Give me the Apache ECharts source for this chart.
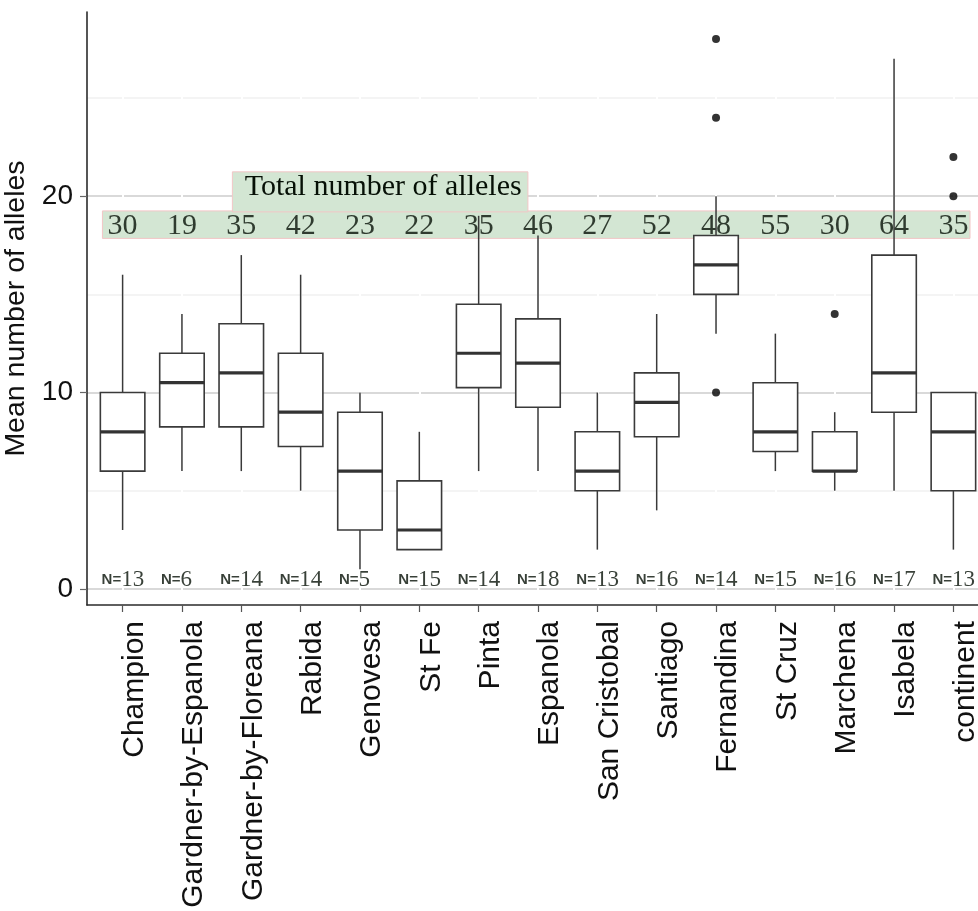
<!DOCTYPE html>
<html>
<head>
<meta charset="utf-8">
<script src="https://cdn.jsdelivr.net/npm/echarts@6/dist/echarts.min.js"></script>
<style>
  html, body { margin: 0; padding: 0; background: #ffffff; }
  #chart { width: 978px; height: 911px; }
</style>
</head>
<body>
<div id="chart"></div>
<script>
// Islands / populations along the x axis
const ISLANDS = ['Champion', 'Gardner-by-Espanola', 'Gardner-by-Floreana', 'Rabida', 'Genovesa',
  'St Fe', 'Pinta', 'Espanola', 'San Cristobal', 'Santiago', 'Fernandina', 'St Cruz',
  'Marchena', 'Isabela', 'continent'];

// Box statistics per island (mean number of alleles per locus)
const WHISKER_LOW  = [3, 6, 6, 5, 1, 2, 6, 6, 2, 4, 13, 6, 5, 5, 2];
const Q1           = [6, 8.25, 8.25, 7.25, 3, 2, 10.25, 9.25, 5, 7.75, 15, 7, 6, 9, 5];
const MEDIAN       = [8, 10.5, 11, 9, 6, 3, 12, 11.5, 6, 9.5, 16.5, 8, 6, 11, 8];
const Q3           = [10, 12, 13.5, 12, 9, 5.5, 14.5, 13.75, 8, 11, 18, 10.5, 8, 17, 10];
const WHISKER_HIGH = [16, 14, 17, 16, 10, 8, 19, 18, 10, 14, 20, 13, 9, 27, 10];

// Outlying loci
const OUTLIER_ISLAND = ['Fernandina', 'Fernandina', 'Fernandina', 'Marchena', 'continent', 'continent'];
const OUTLIER_VALUE  = [28, 24, 10, 14, 22, 20];

// Sample sizes and total allele counts
const SAMPLE_SIZE   = [13, 6, 14, 14, 5, 15, 14, 18, 13, 16, 14, 15, 16, 17, 13];
const TOTAL_ALLELES = [30, 19, 35, 42, 23, 22, 35, 46, 27, 52, 48, 55, 30, 64, 35];

// Axis ticks
const Y_TICKS = [0, 10, 20];
const Y_MINOR_GRID = [5, 15, 25];
const X_TICKS = ISLANDS.map((_, i) => i);

// Layout constants (in data units)
const N_ROW_Y = 0.48;
const TOTAL_ROW_Y = 18.46;
const BOX_WIDTH = 0.75;
const TEXT_DARK = '#061006';
const LINE_COLOR = '#3a3a3a';

const boxData = ISLANDS.map((_, i) =>
  [i, WHISKER_LOW[i], Q1[i], MEDIAN[i], Q3[i], WHISKER_HIGH[i]]);
const outlierData = OUTLIER_ISLAND.map((name, k) => [ISLANDS.indexOf(name), OUTLIER_VALUE[k]]);

function renderBox(params, api) {
  const x = api.value(0);
  const lo = api.coord([x, api.value(1)]);
  const q1 = api.coord([x, api.value(2)]);
  const med = api.coord([x, api.value(3)]);
  const q3 = api.coord([x, api.value(4)]);
  const hi = api.coord([x, api.value(5)]);
  const half = api.size([BOX_WIDTH, 0])[0] / 2;
  const stroke = { stroke: LINE_COLOR, lineWidth: 1.5 };
  return {
    type: 'group',
    children: [
      { type: 'line', shape: { x1: lo[0], y1: lo[1], x2: q1[0], y2: q1[1] }, style: stroke },
      { type: 'line', shape: { x1: q3[0], y1: q3[1], x2: hi[0], y2: hi[1] }, style: stroke },
      { type: 'rect', shape: { x: q3[0] - half, y: q3[1], width: half * 2, height: q1[1] - q3[1] },
        style: { fill: '#ffffff', stroke: LINE_COLOR, lineWidth: 1.6 } },
      { type: 'line', shape: { x1: med[0] - half, y1: med[1], x2: med[0] + half, y2: med[1] },
        style: { stroke: '#333333', lineWidth: 3.2 } }
    ]
  };
}

const chart = echarts.init(document.getElementById('chart'), null, { renderer: 'canvas' });

const option = {
  animation: false,
  backgroundColor: '#ffffff',
  grid: { left: 87, top: 12, width: 902, bottom: 306, outerBoundsMode: 'none', containLabel: false },
  xAxis: {
    type: 'value',
    min: -0.6,
    max: 14.6,
    z: 1,
    axisLine: { show: true, onZero: false, lineStyle: { color: '#2b2b2b', width: 1.6 } },
    axisTick: { show: true, customValues: X_TICKS, length: 7, lineStyle: { color: '#555555', width: 1.2 } },
    axisLabel: {
      customValues: X_TICKS,
      rotate: 90,
      margin: 16,
      fontSize: 30,
      fontFamily: 'Liberation Sans',
      color: '#111111',
      verticalAlign: 'top',
      lineHeight: 24,
      formatter: v => ISLANDS[Math.round(v)]
    },
    splitLine: { show: true, lineStyle: { color: '#ffffff', width: 2 } }
  },
  yAxis: [
    {
      type: 'value',
      min: -0.82,
      max: 29.38,
      position: 'left',
      axisLine: { show: true, onZero: false, lineStyle: { color: '#2b2b2b', width: 1.6 } },
      axisTick: { show: true, customValues: Y_TICKS, length: 7, lineStyle: { color: '#666666', width: 1.2 } },
      axisLabel: { customValues: Y_TICKS, margin: 14, fontSize: 28, fontFamily: 'Liberation Sans', color: '#111111' },
      splitLine: { show: true, lineStyle: { color: '#cdcdcd', width: 1.5 } },
      name: 'Mean number of alleles',
      nameLocation: 'middle',
      nameGap: 48,
      nameTextStyle: { fontSize: 28.5, fontFamily: 'Liberation Sans', color: '#111111' }
    },
    {
      type: 'value',
      min: -0.82,
      max: 29.38,
      position: 'left',
      axisLine: { show: false },
      axisTick: { show: false, customValues: Y_MINOR_GRID },
      axisLabel: { show: false },
      splitLine: { show: true, lineStyle: { color: '#f1f1f1', width: 1.5 } }
    }
  ],
  series: [
    {
      name: 'boxes',
      type: 'custom',
      z: 3,
      renderItem: renderBox,
      encode: { x: 0, y: [1, 2, 3, 4, 5] },
      data: boxData
    },
    {
      name: 'outliers',
      type: 'scatter',
      z: 4,
      symbol: 'circle',
      symbolSize: 8,
      itemStyle: { color: '#000000' },
      data: outlierData
    },
    {
      name: 'total alleles',
      type: 'scatter',
      z: 5,
      symbolSize: 1,
      itemStyle: { color: 'rgba(0,0,0,0)' },
      label: {
        show: true,
        position: 'inside',
        fontSize: 30,
        fontFamily: 'Liberation Serif',
        color: TEXT_DARK,
        formatter: p => String(TOTAL_ALLELES[p.dataIndex])
      },
      data: X_TICKS.map(i => [i, TOTAL_ROW_Y]),
      markArea: {
        z: 2,
        silent: true,
        itemStyle: { color: '#d3e6d3', borderColor: '#f2c6c6', borderWidth: 1 },
        label: { show: false },
        data: [
          [{ xAxis: -0.34, yAxis: 17.85 }, { xAxis: 14.28, yAxis: 19.25 }],
          [{
            name: 'Total number of alleles',
            xAxis: 1.85, yAxis: 19.2,
            label: {
              show: true,
              position: 'inside',
              formatter: '{b}',
              fontSize: 30,
              fontFamily: 'Liberation Serif',
              color: TEXT_DARK,
              offset: [3, -5]
            }
          }, { xAxis: 6.83, yAxis: 21.24 }]
        ]
      }
    },
    {
      name: 'sample size',
      type: 'scatter',
      z: 5,
      symbolSize: 1,
      itemStyle: { color: 'rgba(0,0,0,0)' },
      label: {
        show: true,
        position: 'inside',
        align: 'left',
        offset: [-21, 0],
        color: TEXT_DARK,
        formatter: p => '{n|N=}{v|' + SAMPLE_SIZE[p.dataIndex] + '}',
        rich: {
          n: { fontSize: 15, fontWeight: 'bold', fontFamily: 'Liberation Sans', color: TEXT_DARK },
          v: { fontSize: 23, fontFamily: 'Liberation Serif', color: TEXT_DARK }
        }
      },
      data: X_TICKS.map(i => [i, N_ROW_Y])
    }
  ]
};

chart.setOption(option);
</script>
</body>
</html>
